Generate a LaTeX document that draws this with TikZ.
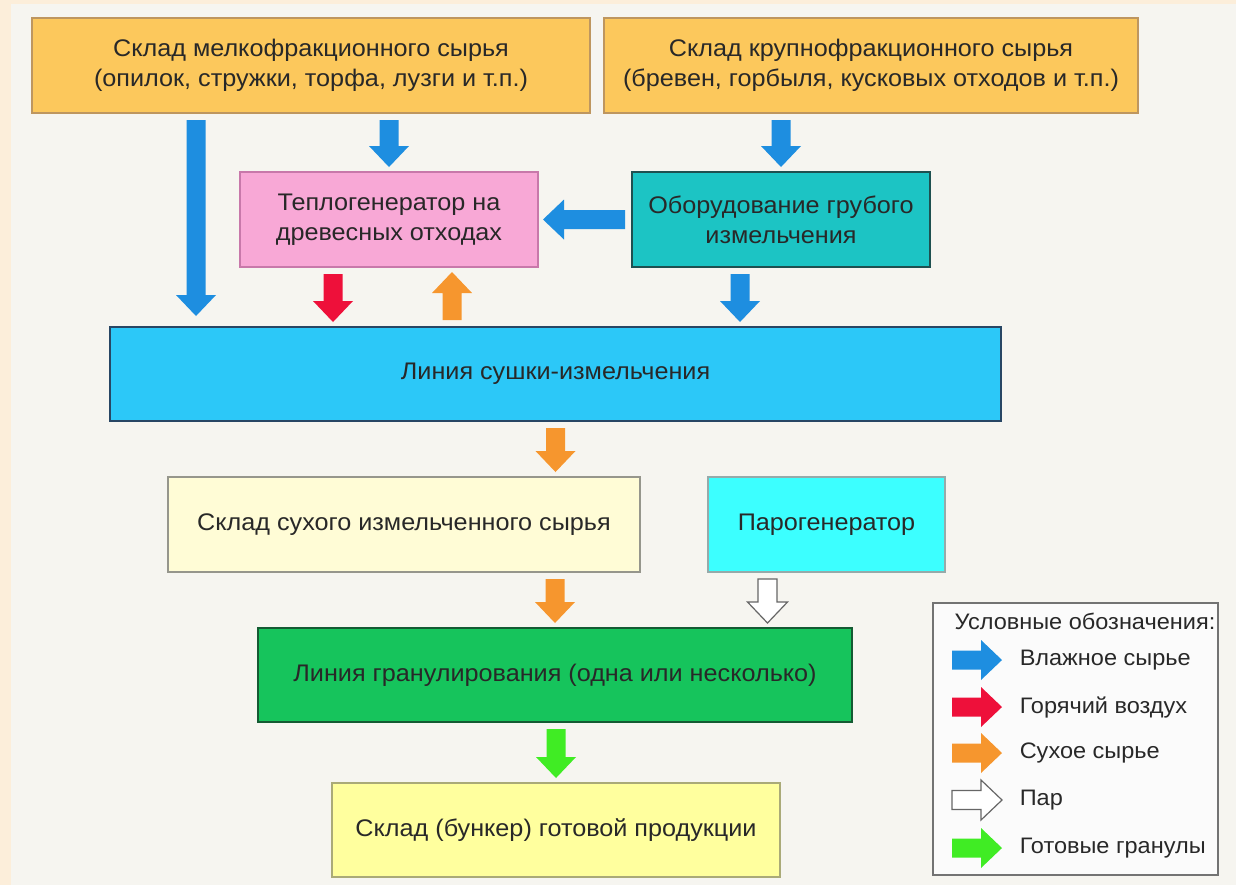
\documentclass[tikz,border=0pt]{standalone}
\usepackage{fontspec}
\setmainfont{Liberation Sans}[FakeStretch=1.05]
\usetikzlibrary{calc}

\definecolor{pagebg}{RGB}{252,238,218}
\definecolor{panelbg}{RGB}{246,245,240}
\definecolor{rawfill}{RGB}{252,200,92}
\definecolor{rawline}{RGB}{190,150,95}
\definecolor{heatfill}{RGB}{248,168,214}
\definecolor{heatline}{RGB}{200,120,170}
\definecolor{crushfill}{RGB}{28,196,196}
\definecolor{crushline}{RGB}{30,80,80}
\definecolor{dryfill}{RGB}{44,200,248}
\definecolor{dryline}{RGB}{40,70,100}
\definecolor{storefill}{RGB}{255,252,214}
\definecolor{storeline}{RGB}{150,150,140}
\definecolor{steamfill}{RGB}{60,255,255}
\definecolor{steamline}{RGB}{150,170,170}
\definecolor{granfill}{RGB}{22,196,92}
\definecolor{granline}{RGB}{20,90,50}
\definecolor{finalfill}{RGB}{255,255,158}
\definecolor{finalline}{RGB}{170,170,120}
\definecolor{wetcol}{RGB}{30,142,224}
\definecolor{hotcol}{RGB}{238,16,58}
\definecolor{drycol}{RGB}{246,150,46}
\definecolor{pelletcol}{RGB}{64,236,36}
\definecolor{txt}{RGB}{40,40,40}

\tikzset{every picture/.style={line width=0.75pt}}
\tikzset{
  box/.style={draw, line width=1pt, inner sep=2pt, align=center, text=txt,
    font=\fontsize{12}{15}\selectfont},
  keytext/.style={anchor=west, inner sep=0pt, text=txt, font=\fontsize{11.2}{14}\selectfont},
  wetarrow/.style={fill=wetcol},
  hotarrow/.style={fill=hotcol},
  dryarrow/.style={fill=drycol},
  steamarrow/.style={fill=white, draw=black!60, line width=0.6pt},
  pelletarrow/.style={fill=pelletcol}
}

% block arrow from #2 to #3
\newcommand{\flowarrow}[3][]{%
  \path[#1] let \p1=#2, \p2=#3, \n1={atan2(\y2-\y1,\x2-\x1)}, \n2={veclen(\x2-\x1,\y2-\y1)} in
    [shift={(\p1)}, rotate=\n1]
    (3pt,-4.75pt) -- (\n2-12.5pt,-4.75pt) -- (\n2-12.5pt,-10pt) -- (\n2-2pt,0pt)
    -- (\n2-12.5pt,10pt) -- (\n2-12.5pt,4.75pt) -- (3pt,4.75pt) -- cycle;}

\begin{document}
\begin{tikzpicture}[x=0.5pt,y=-0.5pt]
\useasboundingbox (0,0) rectangle (1236,885);

% background
\fill[pagebg] (0,0) rectangle (1236,885);
\fill[panelbg] (11,4) rectangle (1236,885);

% boxes
\node[box, fill=rawfill, draw=rawline, minimum width=279pt, minimum height=47.5pt] (fine) at (311,65.5)
  {Склад мелкофракционного сырья\\(опилок, стружки, торфа, лузги и т.п.)};
\node[box, fill=rawfill, draw=rawline, minimum width=267pt, minimum height=47.5pt] (coarse) at (871,65.5)
  {Склад крупнофракционного сырья\\(бревен, горбыля, кусковых отходов и т.п.)};
\node[box, fill=heatfill, draw=heatline, minimum width=149pt, minimum height=47.5pt] (heat) at (389,219.5)
  {Теплогенератор на\\древесных отходах};
\node[box, fill=crushfill, draw=crushline, minimum width=149pt, minimum height=47.5pt] (crush) at (781,219.5)
  {Оборудование грубого\\измельчения};
\node[box, fill=dryfill, draw=dryline, minimum width=445.5pt, minimum height=47pt] (drying) at (555.5,374)
  {Линия сушки-измельчения};
\node[box, fill=storefill, draw=storeline, minimum width=236pt, minimum height=47.5pt] (store) at (404,524.5)
  {Склад сухого измельченного сырья};
\node[box, fill=steamfill, draw=steamline, minimum width=118.5pt, minimum height=47.5pt] (steam) at (826.5,524.5)
  {Парогенератор};
\node[box, fill=granfill, draw=granline, minimum width=297pt, minimum height=47pt] (gran) at (555,675)
  {Линия гранулирования (одна или несколько)};
\node[box, fill=finalfill, draw=finalline, minimum width=224pt, minimum height=47pt] (final) at (556,830)
  {Склад (бункер) готовой продукции};

% arrows
\flowarrow[wetarrow]{($(fine.south west)+(165,0)$)}{($(drying.north west)+(87,-6)$)}
\flowarrow[wetarrow]{(heat.north |- fine.south)}{(heat.north)}
\flowarrow[wetarrow]{(crush.north |- coarse.south)}{(crush.north)}
\flowarrow[wetarrow]{(crush.west)}{(heat.east)}
\flowarrow[hotarrow]{($(heat.south)+(-56,0)$)}{($(heat.south |- drying.north)+(-56,0)$)}
\flowarrow[dryarrow]{($(heat.south |- drying.north)+(63,0)$)}{($(heat.south)+(63,0)$)}
\flowarrow[wetarrow]{($(crush.south)+(-41,0)$)}{($(crush.south |- drying.north)+(-41,0)$)}
\flowarrow[dryarrow]{(drying.south)}{(drying.south |- store.north)}
\flowarrow[dryarrow]{(gran.north |- store.south)}{(gran.north)}
\flowarrow[steamarrow]{($(steam.south)+(-59,0)$)}{($(steam.south |- gran.north)+(-59,0)$)}
\flowarrow[pelletarrow]{(final.north |- gran.south)}{(final.north)}

% legend
\draw[draw=black!55, fill=white!97!gray, line width=1pt] (933,603) rectangle (1218,875);
\node[text=txt, font=\fontsize{11.2}{14}\selectfont] (keytitle) at (1085,621) {Условные обозначения:};
\node[keytext] (key1) at (1019,660) {Влажное сырье};
\node[keytext] (key2) at (1019,707) {Горячий воздух};
\node[keytext] (key3) at (1019,753) {Сухое сырье};
\node[keytext] (key4) at (1019,800) {Пар};
\node[keytext] (key5) at (1019,848) {Готовые гранулы};
\flowarrow[wetarrow]{($(key1.west)+(-73,0)$)}{($(key1.west)+(-13,0)$)}
\flowarrow[hotarrow]{($(key2.west)+(-73,0)$)}{($(key2.west)+(-13,0)$)}
\flowarrow[dryarrow]{($(key3.west)+(-73,0)$)}{($(key3.west)+(-13,0)$)}
\flowarrow[steamarrow]{($(key4.west)+(-73,0)$)}{($(key4.west)+(-13,0)$)}
\flowarrow[pelletarrow]{($(key5.west)+(-73,0)$)}{($(key5.west)+(-13,0)$)}

\end{tikzpicture}
\end{document}
